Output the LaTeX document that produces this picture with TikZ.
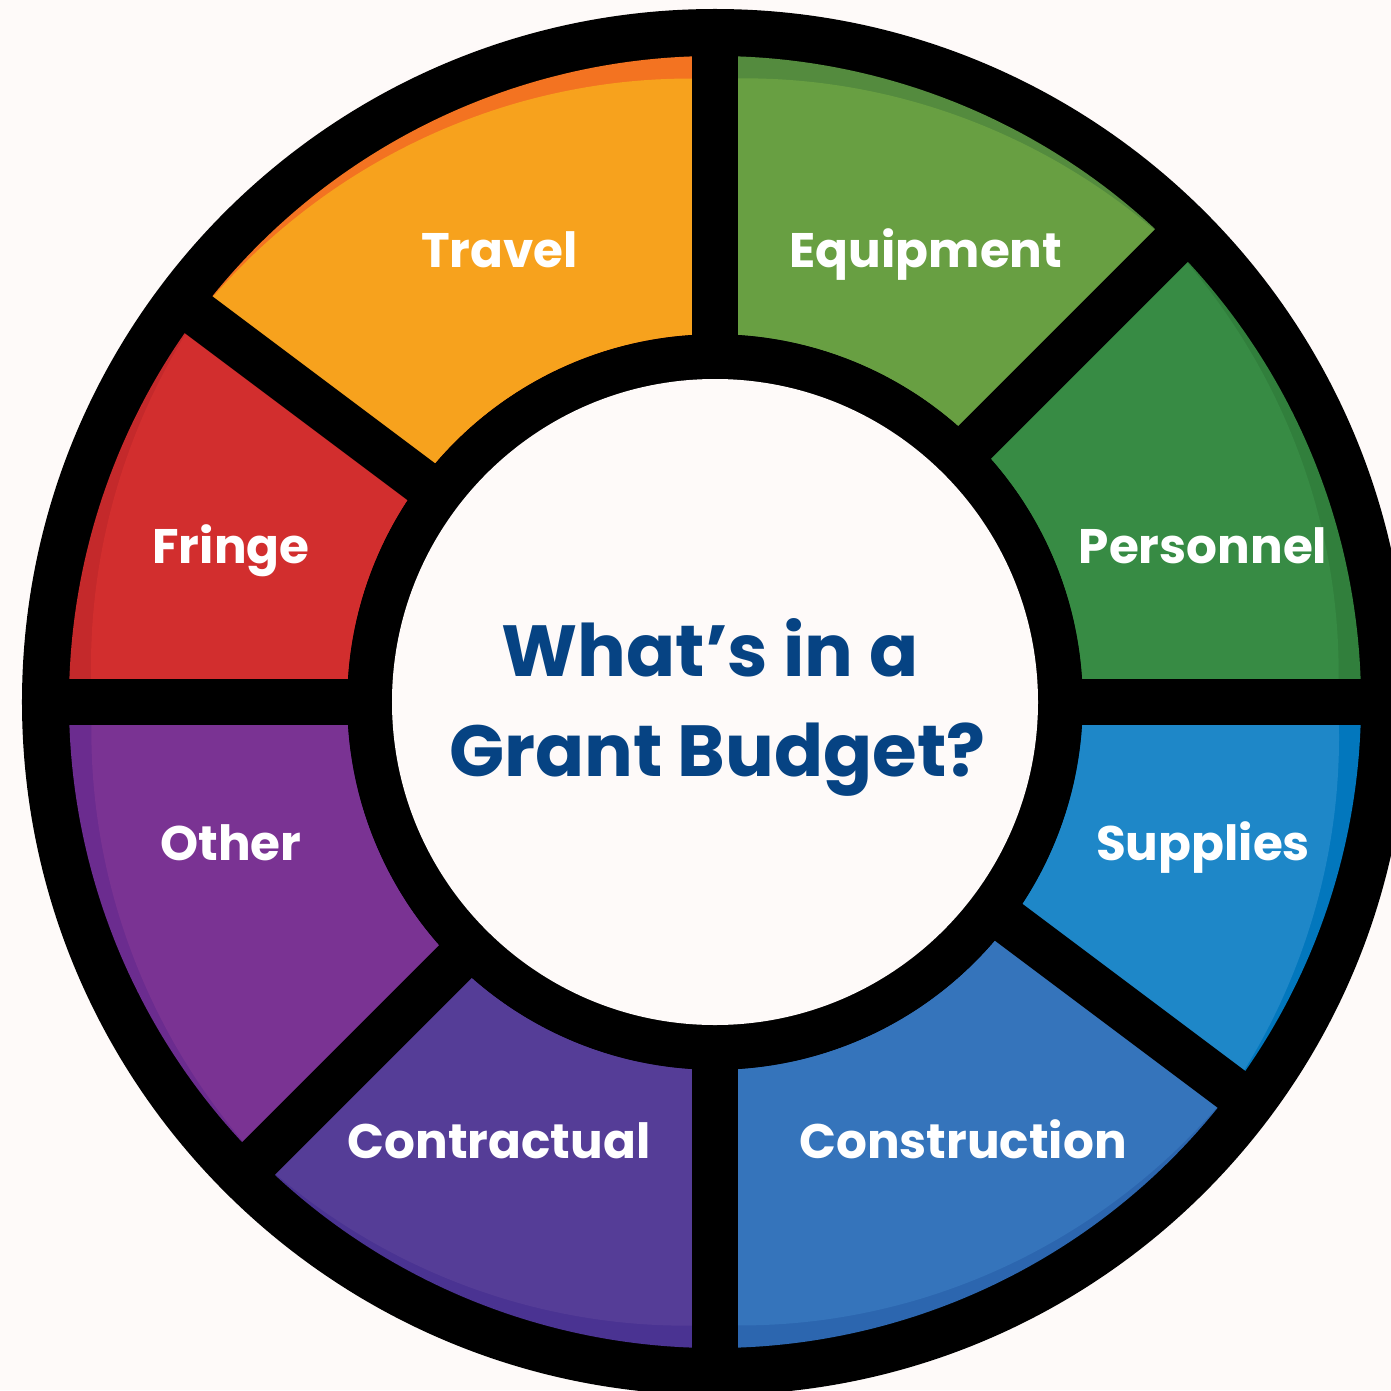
\documentclass[tikz,border=0pt]{standalone}
\usepackage{fontspec}
\setmainfont{Poppins}
\definecolor{paper}{HTML}{FEFAF9}
\definecolor{titleblue}{HTML}{064383}
\definecolor{persM}{HTML}{378B44}\definecolor{persR}{HTML}{317F3C}
\definecolor{equiM}{HTML}{689F42}\definecolor{equiR}{HTML}{548B3E}
\definecolor{travM}{HTML}{F7A21D}\definecolor{travR}{HTML}{F37321}
\definecolor{frinM}{HTML}{D22E2E}\definecolor{frinR}{HTML}{C4292B}
\definecolor{othrM}{HTML}{7A3393}\definecolor{othrR}{HTML}{6B2C8F}
\definecolor{contM}{HTML}{553D97}\definecolor{contR}{HTML}{4A3392}
\definecolor{consM}{HTML}{3574BB}\definecolor{consR}{HTML}{2C66AF}
\definecolor{suppM}{HTML}{1E87C8}\definecolor{suppR}{HTML}{0277BD}
\tikzset{
  seglabel/.style={text=white, font=\bfseries\fontsize{27.6}{34}\selectfont, anchor=base, inner sep=0pt},
  headline/.style={text=titleblue, font=\bfseries\fontsize{41.2}{50}\selectfont, anchor=base, inner sep=0pt},
  divider/.style={line width=0.92cm, black}
}
\begin{document}
\begin{tikzpicture}[x=0.02cm, y=0.02cm]
\useasboundingbox (-715,-688) rectangle (676,702);
\fill[paper] (-715,-688) rectangle (676,702);
% black outer disc
\fill[black] (0,0) circle (693);
% coloured ring segments: start/end/thick rim end/thin rim end/main/rim
\foreach \sa/\sb/\st/\sp/\cm/\cr in {
  0/45/0/45/persM/persR,
  45/90/90/45/equiM/equiR,
  90/143.13/90/143.13/travM/travR,
  143.13/180/180/143.13/frinM/frinR,
  180/225/180/225/othrM/othrR,
  225/270/270/225/contM/contR,
  270/323.13/270/323.13/consM/consR,
  323.13/360/360/323.13/suppM/suppR} {
  \fill[\cr] (\sa:368) arc[start angle=\sa, end angle=\sb, radius=368]
    -- (\sb:646) arc[start angle=\sb, end angle=\sa, radius=646] -- cycle;
  \fill[\cm] (\sa:368) arc[start angle=\sa, end angle=\sb, radius=368]
    -- plot[variable=\q, domain=\sb:\sa, samples=60] (\q:{646-23*(\q-\sp)/(\st-\sp)}) -- cycle;
}
% dividers between segments
\foreach \ang in {0,45,90,143.13} {
  \draw[divider] (\ang:670) -- (\ang+180:670);
}
% centre disc
\fill[paper] (0,0) circle (323);
% labels
\node[seglabel] (travel) at (-215.5,434) {Travel};
\node[seglabel] (equipment) at (211,434) {Equipment};
\node[seglabel] (fringe) at (-484,139) {Fringe};
\node[seglabel] (personnel) at (488,139) {Personnel};
\node[seglabel] (other) at (-484,-158) {Other};
\node[seglabel] (supplies) at (488,-158) {Supplies};
\node[seglabel] (contractual) at (-216,-456) {Contractual};
\node[seglabel] (construction) at (248,-456) {Construction};
\node[headline] (titletop) at (-5,26) {What’s in a};
\node[headline] (titlebottom) at (2.5,-74) {Grant Budget?};
\end{tikzpicture}
\end{document}
